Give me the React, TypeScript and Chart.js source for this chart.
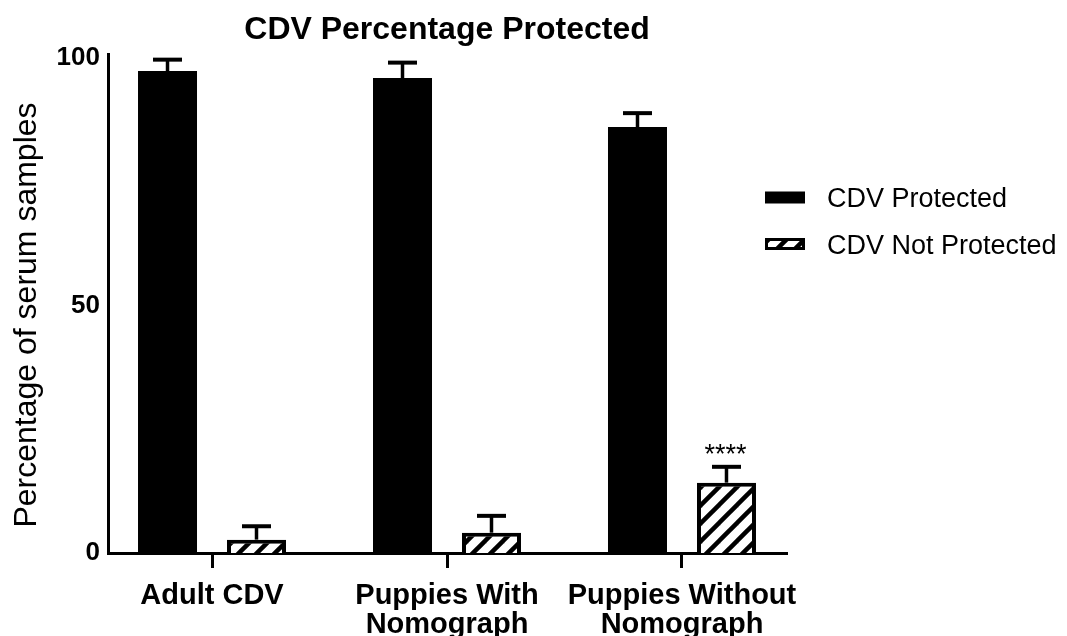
import React, { useEffect, useRef } from 'react';
import { Chart, registerables } from 'chart.js';

Chart.register(...registerables);

// ---- data ----
const categories: string[][] = [
  ['Adult CDV'],
  ['Puppies With', 'Nomograph'],
  ['Puppies Without', 'Nomograph'],
];
const seriesLabels = ['CDV Protected', 'CDV Not Protected'];
const protectedValues = [97.3, 95.9, 86.0];
const protectedErrors = [2.3, 3.1, 2.8];
const notProtectedValues = [2.7, 4.1, 14.2];
const notProtectedErrors = [2.7, 3.4, 3.2];
const significance = ['', '', '****'];
const yTicks = [0, 50, 100];
const chartTitle = 'CDV Percentage Protected';
const yAxisTitle = 'Percentage of serum samples';

const FONT = "'Liberation Sans', Arial, Helvetica, sans-serif";

function makeHatch(): CanvasPattern | string {
  const s = 18;
  const c = document.createElement('canvas');
  c.width = s;
  c.height = s;
  const g = c.getContext('2d');
  if (!g) return '#fff';
  g.fillStyle = '#fff';
  g.fillRect(0, 0, s, s);
  g.strokeStyle = '#000';
  g.lineWidth = 4.5;
  for (let k = 0; k <= 2; k++) {
    g.beginPath();
    g.moveTo(k * s - s - 3, s + 3);
    g.lineTo(k * s + 3, -3);
    g.stroke();
  }
  return g.createPattern(c, 'repeat') || '#fff';
}

export default function App() {
  const ref = useRef<HTMLCanvasElement>(null);

  useEffect(() => {
    if (!ref.current) return;
    const hatch = makeHatch();
    const errors = [protectedErrors, notProtectedErrors];

    const decorPlugin = {
      id: 'decor',
      afterDatasetsDraw(chart: any) {
        const ctx = chart.ctx as CanvasRenderingContext2D;
        const yScale = chart.scales.y;
        chart.data.datasets.forEach((ds: any, di: number) => {
          const meta = chart.getDatasetMeta(di);
          meta.data.forEach((bar: any, i: number) => {
            const v = ds.data[i].y;
            const top = yScale.getPixelForValue(v + errors[di][i]);
            ctx.save();
            ctx.strokeStyle = '#000';
            ctx.lineWidth = 3.5;
            ctx.beginPath();
            ctx.moveTo(bar.x, bar.y);
            ctx.lineTo(bar.x, top);
            ctx.stroke();
            ctx.lineWidth = 4;
            ctx.beginPath();
            ctx.moveTo(bar.x - 14.5, top);
            ctx.lineTo(bar.x + 14.5, top);
            ctx.stroke();
            if (di === 1 && significance[i]) {
              ctx.fillStyle = '#000';
              ctx.font = `27px ${FONT}`;
              ctx.textAlign = 'center';
              ctx.textBaseline = 'alphabetic';
              ctx.fillText(significance[i], bar.x - 1, top - 3.5);
            }
            ctx.restore();
          });
        });
      },
      afterDraw(chart: any) {
        const ctx = chart.ctx as CanvasRenderingContext2D;
        ctx.save();
        // y axis title
        ctx.fillStyle = '#000';
        ctx.font = `32px ${FONT}`;
        ctx.textAlign = 'center';
        ctx.textBaseline = 'alphabetic';
        ctx.translate(36, 315);
        ctx.rotate(-Math.PI / 2);
        ctx.fillText(yAxisTitle, 0, 0);
        ctx.restore();

        // legend
        const rows = [197.5, 244];
        const bx = 765, bw = 40, bh = 12;
        chart.data.datasets.forEach((ds: any, di: number) => {
          const cy = rows[di];
          ctx.save();
          if (di === 0) {
            ctx.fillStyle = '#000';
            ctx.fillRect(bx, cy - bh / 2, bw, bh);
          } else {
            ctx.fillStyle = hatch as any;
            ctx.fillRect(bx, cy - bh / 2, bw, bh);
            ctx.strokeStyle = '#000';
            ctx.lineWidth = 3;
            ctx.strokeRect(bx + 1.5, cy - bh / 2 + 1.5, bw - 3, bh - 3);
          }
          ctx.fillStyle = '#000';
          ctx.font = `27px ${FONT}`;
          ctx.textAlign = 'left';
          ctx.textBaseline = 'alphabetic';
          ctx.fillText(ds.label, 827, cy + 9.5);
          ctx.restore();
        });
      },
    };

    const chart = new Chart(ref.current, {
      type: 'bar',
      data: {
        datasets: [
          {
            label: seriesLabels[0],
            data: protectedValues.map((v, i) => ({ x: i, y: v })),
            backgroundColor: '#000',
            borderWidth: 0,
            categoryPercentage: 0.7574,
            barPercentage: 0.663,
          },
          {
            label: seriesLabels[1],
            data: notProtectedValues.map((v, i) => ({ x: i, y: v })),
            backgroundColor: hatch as any,
            borderColor: '#000',
            borderWidth: 4,
            categoryPercentage: 0.7574,
            barPercentage: 0.663,
          },
        ],
      },
      options: {
        animation: false,
        responsive: false,
        maintainAspectRatio: false,
        layout: { padding: { left: 0, right: 281, top: 0, bottom: 0 } },
        plugins: {
          legend: { display: false },
          tooltip: { enabled: false },
          title: {
            display: true,
            text: chartTitle,
            color: '#000',
            fullSize: false,
            font: { family: FONT, size: 32, weight: 'bold', lineHeight: 1.2 },
            padding: { top: 10.6, bottom: 5.2 },
          },
        },
        scales: {
          x: {
            type: 'linear',
            min: -0.4426,
            max: 2.4426,
            bounds: 'data',
            offset: false,
            grid: {
              display: true,
              offset: false,
              drawOnChartArea: false,
              drawTicks: true,
              tickLength: 15,
              tickWidth: 3,
              tickColor: '#000',
              color: '#000',
              lineWidth: 3,
            },
            border: { display: true, color: '#000', width: 3 },
            afterBuildTicks: (scale: any) => {
              scale.ticks = categories.map((_, i) => ({ value: i }));
            },
            afterFit: (scale: any) => {
              scale.height = 83;
            },
            ticks: {
              autoSkip: false,
              maxRotation: 0,
              minRotation: 0,
              padding: 13,
              color: '#000',
              font: { family: FONT, size: 29, weight: 'bold', lineHeight: 1.0 },
              callback: (value: any) => categories[Math.round(Number(value))] as any,
            },
          },
          y: {
            type: 'linear',
            min: 0,
            max: 100.7,
            bounds: 'data',
            grid: { display: false, drawTicks: false },
            border: { display: true, color: '#000', width: 3 },
            afterBuildTicks: (scale: any) => {
              scale.ticks = yTicks.map((v) => ({ value: v }));
            },
            afterFit: (scale: any) => {
              scale.width = 108;
            },
            ticks: {
              padding: 8,
              color: '#000',
              font: { family: FONT, size: 26, weight: 'bold' },
              callback: (value: any) => String(value),
            },
          },
        },
      } as any,
      plugins: [decorPlugin],
    });

    return () => chart.destroy();
  }, []);

  return (
    <div style={{ position: 'absolute', left: 0, top: 0, width: 1067, height: 636, background: '#fff' }}>
      <canvas ref={ref} width={1067} height={636} style={{ display: 'block' }} />
    </div>
  );
}
